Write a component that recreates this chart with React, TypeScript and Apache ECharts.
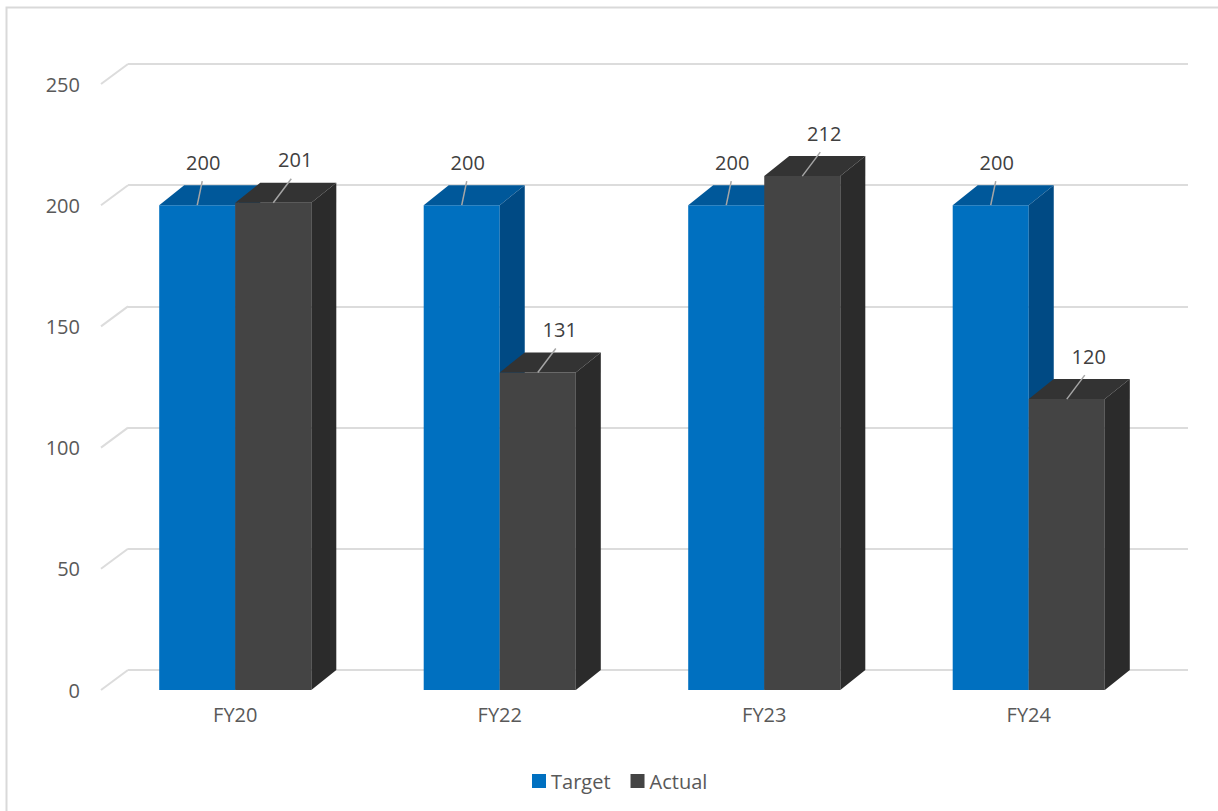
import React, { useEffect, useRef } from "react";
import * as echarts from "echarts";

const categories = ["FY20", "FY22", "FY23", "FY24"];
const targetValues = [200, 200, 200, 200];
const actualValues = [201, 131, 212, 120];
const yTicks = [0, 50, 100, 150, 200, 250];

const DX = 25;
const DY = -20;
const GAP = 0.425;
const FONT = "'Open Sans', 'Liberation Sans', sans-serif";
const TEXT = "#595959";
const LABEL = "#404040";

const targetColors = { front: "#0070C0", top: "#00589a", side: "#004a84" };
const actualColors = { front: "#444444", top: "#333333", side: "#2b2b2b" };

function makeBars(side: number, colors: any, lineDx: number, labelDx: number) {
  return (params: any, api: any) => {
    const idx = api.value(0);
    const v = api.value(1);
    const base = api.coord([idx, 0]);
    const top = api.coord([idx, v]);
    const band = api.size([1, 0])[0];
    const bw = (band * (1 - GAP)) / 2;
    const x0 = base[0] + side * bw;
    const x1 = x0 + bw;
    const yb = base[1];
    const yt = top[1];
    const cx = (x0 + x1) / 2;
    return {
      type: "group",
      children: [
        {
          type: "rect",
          shape: { x: x0, y: yt, width: bw, height: yb - yt },
          style: { fill: colors.front },
        },
        {
          type: "polygon",
          shape: {
            points: [
              [x0, yt],
              [x1, yt],
              [x1 + DX, yt + DY],
              [x0 + DX, yt + DY],
            ],
          },
          style: { fill: colors.top },
        },
        {
          type: "polygon",
          shape: {
            points: [
              [x1, yt],
              [x1 + DX, yt + DY],
              [x1 + DX, yb + DY],
              [x1, yb],
            ],
          },
          style: { fill: colors.side },
        },
        {
          type: "line",
          shape: { x1: cx, y1: yt, x2: cx + lineDx, y2: yt - 24 },
          style: { stroke: "#a6a6a6", lineWidth: 1.5 },
        },
        {
          type: "text",
          x: cx + labelDx,
          y: yt - 43,
          style: {
            text: String(v),
            fill: LABEL,
            font: `20px ${FONT}`,
            align: "center",
            verticalAlign: "middle",
          },
        },
      ],
    };
  };
}

export default function App() {
  const ref = useRef<HTMLDivElement>(null);
  useEffect(() => {
    if (!ref.current) return;
    const chart = echarts.init(ref.current, null, { renderer: "svg" });
    const option: any = {
      animation: false,
      backgroundColor: "#ffffff",
      textStyle: { fontFamily: FONT },
      graphic: [
        {
          type: "rect",
          shape: { x: 6.5, y: 7.5, width: 1300, height: 900 },
          style: { fill: "none", stroke: "#d9d9d9", lineWidth: 2 },
          silent: true,
          z: -10,
        },
      ],
      legend: {
        data: ["Target", "Actual"],
        left: 527,
        top: 766,
        icon: "rect",
        itemWidth: 14,
        itemHeight: 14,
        itemGap: 20,
        textStyle: { fontSize: 20, color: TEXT, fontFamily: FONT },
      },
      grid: [
        { left: 103, right: 57, top: 84, bottom: 121 },
        { left: 128, right: 30, top: 64, bottom: 141 },
      ],
      xAxis: [
        {
          type: "category",
          gridIndex: 0,
          data: categories,
          axisLine: { show: false },
          axisTick: { show: false },
          axisLabel: { fontSize: 20, color: TEXT, margin: 14, fontFamily: FONT },
          splitLine: { show: false },
        },
        {
          type: "value",
          gridIndex: 1,
          show: false,
          splitLine: { show: false },
        },
      ],
      yAxis: [
        {
          type: "value",
          gridIndex: 0,
          min: 0,
          max: 250,
          interval: 50,
          axisLine: { show: false },
          axisTick: { show: false },
          splitLine: { show: false },
          axisLabel: { fontSize: 20, color: TEXT, margin: 23, fontFamily: FONT },
        },
        {
          type: "value",
          gridIndex: 1,
          min: 0,
          max: 250,
          interval: 50,
          axisLine: { show: false },
          axisTick: { show: false },
          axisLabel: { show: false },
          splitLine: { show: true, lineStyle: { color: "#dcdcdc", width: 2 } },
        },
      ],
      series: [
        {
          type: "custom",
          name: "ticks",
          xAxisIndex: 0,
          yAxisIndex: 0,
          data: yTicks.map((t) => [0, t]),
          encode: { x: 0, y: 1 },
          silent: true,
          renderItem: (params: any, api: any) => {
            const y = api.coord([0, api.value(1)])[1];
            const x = params.coordSys.x;
            return {
              type: "line",
              shape: { x1: x - 2, y1: y, x2: x + DX, y2: y + DY },
              style: { stroke: "#dcdcdc", lineWidth: 2 },
            };
          },
          z: 1,
        },
        {
          type: "custom",
          name: "Target",
          xAxisIndex: 0,
          yAxisIndex: 0,
          itemStyle: { color: targetColors.front },
          data: categories.map((c, i) => [i, targetValues[i]]),
          encode: { x: 0, y: 1 },
          renderItem: makeBars(-1, targetColors, 5, 6),
          z: 2,
        },
        {
          type: "custom",
          name: "Actual",
          xAxisIndex: 0,
          yAxisIndex: 0,
          itemStyle: { color: actualColors.front },
          data: categories.map((c, i) => [i, actualValues[i]]),
          encode: { x: 0, y: 1 },
          renderItem: makeBars(0, actualColors, 18, 22),
          z: 3,
        },
      ],
    };
    chart.setOption(option);
    return () => chart.dispose();
  }, []);
  return (
    <div
      ref={ref}
      style={{ position: "fixed", left: 0, top: 0, width: 1218, height: 811 }}
    />
  );
}
